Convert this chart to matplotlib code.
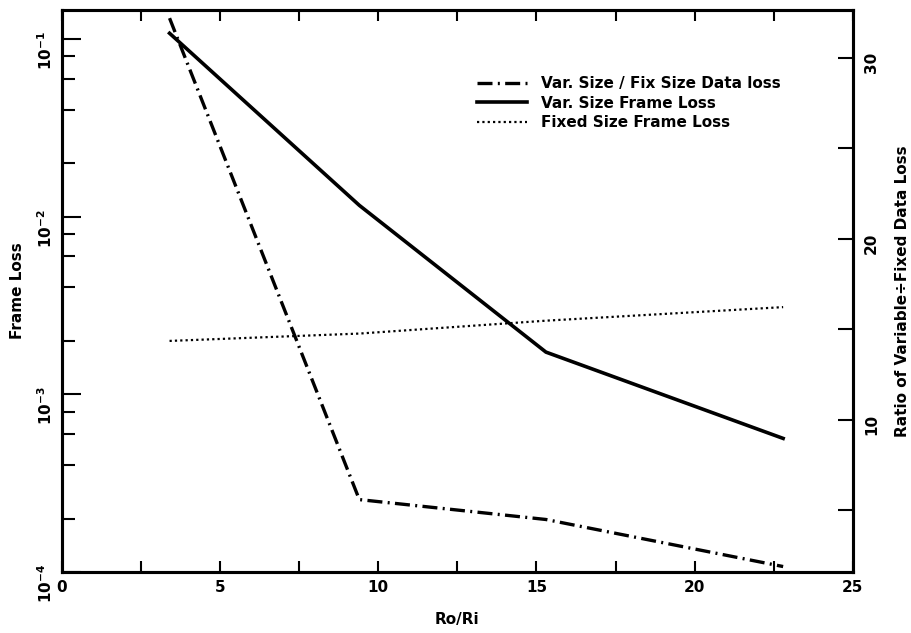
import matplotlib.pyplot as plt
from matplotlib.ticker import LogLocator, MultipleLocator, NullFormatter

# values
ro_ri = [3.4, 9.4, 15.3, 22.8]
var_frame_loss = [0.108, 0.0116, 1.73e-3, 5.65e-4]
fixed_frame_loss = [2.0e-3, 2.2e-3, 2.6e-3, 3.1e-3]
data_loss_ratio = [32.2, 5.6, 4.5, 1.9]

labels = ["Var. Size / Fix Size Data loss", "Var. Size Frame Loss", "Fixed Size Frame Loss"]

plt.rcParams['font.family'] = ['DejaVu Sans']
plt.rcParams['font.weight'] = 'bold'
plt.rcParams['mathtext.default'] = 'bf'

fig = plt.figure(figsize=(9.12, 6.33), dpi=100)
ax = fig.add_axes([0.068, 0.0964, 0.867, 0.8878])
ax2 = ax.twinx()

l_solid, = ax.plot(ro_ri, var_frame_loss, color='black', lw=2.6, solid_joinstyle='miter')
l_dot, = ax.plot(ro_ri, fixed_frame_loss, color='black', lw=1.6, linestyle=(0, (1, 1.4)))
l_dd, = ax2.plot(ro_ri, data_loss_ratio, color='black', lw=2.4, linestyle=(0, (4.5, 1.6, 0.6, 1.6)))

ax.set_yscale('log')
ax.set_xlim(0, 25)
ax.set_ylim(1e-4, 0.146)
ax2.set_ylim(1.6, 32.65)

# left axis ticks
ax.yaxis.set_major_locator(LogLocator(base=10, numticks=10))
ax.yaxis.set_minor_locator(LogLocator(base=10, subs=(2, 4, 6, 8), numticks=10))
ax.yaxis.set_minor_formatter(NullFormatter())
ax.tick_params(axis='y', which='major', direction='in', length=14, width=1.5, labelsize=11,
               labelrotation=90, pad=5, right=False)
ax.tick_params(axis='y', which='minor', direction='in', length=9, width=1.5, right=False)

# x ticks, top and bottom
ax.xaxis.set_major_locator(MultipleLocator(5))
ax.xaxis.set_minor_locator(MultipleLocator(2.5))
ax.tick_params(axis='x', which='both', direction='in', length=8, width=1.5, top=True,
               labelsize=11, pad=6)

# right axis ticks
ax2.yaxis.set_major_locator(MultipleLocator(10))
ax2.yaxis.set_minor_locator(MultipleLocator(5))
ax2.tick_params(axis='y', which='both', direction='in', length=11, width=1.5, labelsize=11,
                labelrotation=90, pad=8)

for a in (ax, ax2):
    for s in a.spines.values():
        s.set_linewidth(2.2)

ax.set_xlabel("Ro/Ri", fontsize=11, fontweight='bold', labelpad=12)
ax.set_ylabel("Frame Loss", fontsize=11, fontweight='bold', labelpad=8)
ax2.set_ylabel("Ratio of Variable\u00f7Fixed Data Loss", fontsize=11, fontweight='bold',
               labelpad=12)

fig.legend([l_dd, l_solid, l_dot], labels, loc='upper left',
           bbox_to_anchor=(0.523, 0.88), bbox_transform=fig.transFigure,
           frameon=False, borderaxespad=0, borderpad=0, handlelength=3.3,
           handletextpad=0.9, labelspacing=0.3, prop={'size': 11, 'weight': 'bold'})

fig.savefig('out.png', dpi=100)
